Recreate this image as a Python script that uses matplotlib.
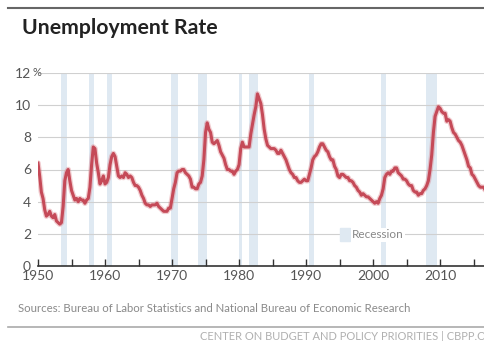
import numpy as np
import matplotlib.pyplot as plt
from matplotlib.patches import Rectangle

# quarterly unemployment rate, 1950-2016 (percent)
rate = [
    6.4, 5.6, 4.6, 4.2,  3.5, 3.1, 3.2, 3.4,  3.1, 3.0, 3.2, 2.8,  2.7, 2.6, 2.7, 3.7,
    5.3, 5.8, 6.0, 5.3,  4.7, 4.4, 4.1, 4.2,  4.0, 4.2, 4.1, 4.1,  3.9, 4.1, 4.2, 4.9,
    6.3, 7.4, 7.3, 6.4,  5.8, 5.1, 5.3, 5.6,  5.1, 5.2, 5.5, 6.3,  6.8, 7.0, 6.8, 6.2,
    5.6, 5.5, 5.6, 5.5,  5.8, 5.7, 5.5, 5.6,  5.5, 5.2, 5.0, 5.0,  4.9, 4.7, 4.4, 4.2,
    3.9, 3.8, 3.8, 3.7,  3.8, 3.8, 3.8, 3.9,  3.7, 3.6, 3.5, 3.4,  3.4, 3.4, 3.6, 3.6,
    4.2, 4.8, 5.2, 5.8,  5.9, 5.9, 6.0, 6.0,  5.8, 5.7, 5.6, 5.4,  4.9, 4.9, 4.8, 4.8,
    5.1, 5.2, 5.6, 6.6,  8.3, 8.9, 8.5, 8.3,  7.7, 7.6, 7.7, 7.8,  7.5, 7.1, 6.9, 6.7,
    6.3, 6.0, 6.0, 5.9,  5.9, 5.7, 5.9, 6.0,  6.3, 7.3, 7.7, 7.4,  7.4, 7.4, 7.4, 8.2,
    8.8, 9.4, 9.9, 10.7, 10.4, 10.1, 9.4, 8.5, 7.9, 7.5, 7.4, 7.3,  7.3, 7.3, 7.2, 7.0,
    7.0, 7.2, 7.0, 6.8,  6.6, 6.3, 6.0, 5.8,  5.7, 5.5, 5.5, 5.3,  5.2, 5.2, 5.3, 5.4,
    5.3, 5.3, 5.7, 6.1,  6.6, 6.8, 6.9, 7.1,  7.4, 7.6, 7.6, 7.4,  7.2, 7.1, 6.8, 6.6,
    6.6, 6.2, 6.0, 5.6,  5.5, 5.7, 5.7, 5.6,  5.5, 5.5, 5.3, 5.3,  5.2, 5.0, 4.9, 4.7,
    4.6, 4.4, 4.5, 4.4,  4.3, 4.3, 4.2, 4.1,  4.0, 3.9, 4.0, 3.9,  4.2, 4.4, 4.8, 5.5,
    5.7, 5.8, 5.7, 5.9,  5.9, 6.1, 6.1, 5.8,  5.7, 5.6, 5.4, 5.4,  5.3, 5.1, 5.0, 5.0,
    4.7, 4.6, 4.6, 4.4,  4.5, 4.5, 4.7, 4.8,  5.0, 5.3, 6.0, 6.9,  8.3, 9.3, 9.6, 9.9,
    9.8, 9.6, 9.5, 9.5,  9.0, 9.1, 9.0, 8.6,  8.3, 8.2, 8.0, 7.8,  7.7, 7.5, 7.2, 6.9,
    6.6, 6.2, 6.1, 5.7,  5.6, 5.4, 5.2, 5.0,  4.9, 4.9, 4.9, 4.7,
]
years = 1950 + np.arange(len(rate)) / 4

# NBER recessions (start, end) in fractional years
recessions = [
    (1953.5, 1954.4), (1957.6, 1958.3), (1960.3, 1961.1), (1969.9, 1970.9),
    (1973.9, 1975.2), (1980.0, 1980.5), (1981.5, 1982.9), (1990.5, 1991.2),
    (2001.2, 2001.9), (2007.9, 2009.5),
]

yticks = [0, 2, 4, 6, 8, 10, 12]
xticks = [1950, 1960, 1970, 1980, 1990, 2000, 2010]

gray = "#555555"
plt.rcParams['font.family'] = ['Lato', 'DejaVu Sans']
fig = plt.figure(figsize=(4.85, 3.41), dpi=100)

ax = fig.add_axes([38 / 485, 1 - 266 / 341, 1 - 38 / 485, (266 - 73) / 341])
ax.set_xlim(1950, 2016.7)
ax.set_ylim(0, 12)

for s, e in recessions:
    ax.axvspan(s, e, color="#dfe9f2", lw=0, zorder=0)

for y in yticks[1:]:
    ax.axhline(y, color="#d0d0d0", lw=0.8, zorder=1)

ax.plot(years, rate, color="#d9707a", lw=4, alpha=0.35, zorder=3, solid_capstyle="round")
ax.plot(years, rate, color="#c54a58", lw=2.2, zorder=4, solid_joinstyle="round")

for side in ["top", "right", "left"]:
    ax.spines[side].set_visible(False)
ax.spines["bottom"].set_color("#333333")
ax.spines["bottom"].set_linewidth(1.2)

ax.set_xticks(xticks)
ax.set_xticks(np.arange(1955, 2017, 10), minor=True)
ax.tick_params(axis="x", which="both", direction="in", length=5, width=1, color="#333333",
               labelsize=10, labelcolor=gray, pad=3)
ax.set_yticks(yticks)
ax.set_yticklabels([str(v) for v in yticks])
ax.tick_params(axis="y", length=0, labelsize=10, labelcolor=gray, pad=5)
ax.text(-0.013, 12, "%", transform=ax.get_yaxis_transform(), ha="left", va="center",
        fontsize=8, color=gray)

# legend
ax.add_patch(Rectangle((1995.1, 1.55), 1.5, 0.8, color="#dfe9f2", zorder=5))
ax.text(1996.9, 1.95, "Recession", ha="left", va="center", fontsize=8.5, color="#888888",
        zorder=5, bbox=dict(facecolor="white", edgecolor="none", pad=1))

fig.text(22 / 485, 1 - 28 / 341, "Unemployment Rate", fontsize=15.3, fontweight="bold",
         color="#222222", ha="left", va="center")
fig.text(18 / 485, 1 - 308 / 341,
         "Sources: Bureau of Labor Statistics and National Bureau of Economic Research",
         fontsize=8.2, color="#8a8a8a", ha="left", va="center")
fig.text(200 / 485, 1 - 337 / 341, "CENTER ON BUDGET AND POLICY PRIORITIES | CBPP.ORG",
         fontsize=8, color="#b0b0b0", ha="left", va="center")

fig.add_artist(plt.Line2D([8 / 485, 1], [1 - 8 / 341] * 2, color="#666666", lw=1.5))
fig.add_artist(plt.Line2D([8 / 485, 1], [1 - 327 / 341] * 2, color="#aaaaaa", lw=1.2))

fig.savefig("out.png", dpi=100)
